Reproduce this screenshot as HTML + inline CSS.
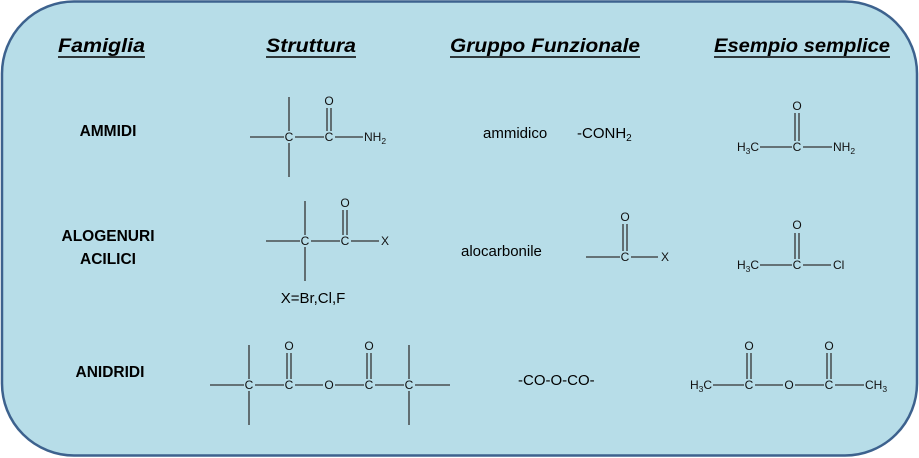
<!DOCTYPE html>
<html><head><meta charset="utf-8"><style>
html,body{margin:0;padding:0;background:#fff;}
svg{display:block;}
.h{font-family:"Liberation Sans",sans-serif;font-weight:bold;font-style:italic;font-size:19px;fill:#000;}
.l{font-family:"Liberation Sans",sans-serif;font-weight:bold;font-size:15.5px;fill:#000;}
.t{font-family:"Liberation Sans",sans-serif;font-size:15px;fill:#000;}
.c{font-family:"Liberation Sans",sans-serif;font-size:12px;fill:#111;}
.s{font-size:8.5px;}
line{stroke:#333;stroke-width:1.3;}
</style></head><body>
<svg width="919" height="458" viewBox="0 0 919 458" xmlns="http://www.w3.org/2000/svg">
<rect x="2" y="1.5" width="915" height="454" rx="72" ry="72" fill="#b7dde8" stroke="#3d628e" stroke-width="2.5"/>
<!-- headers -->
<text class="h" x="58" y="52" textLength="87" lengthAdjust="spacingAndGlyphs">Famiglia</text>
<line x1="58" y1="57" x2="145" y2="57" style="stroke:#000;stroke-width:1.6"/>
<text class="h" x="266" y="52" textLength="90" lengthAdjust="spacingAndGlyphs">Struttura</text>
<line x1="266" y1="57" x2="356" y2="57" style="stroke:#000;stroke-width:1.6"/>
<text class="h" x="450" y="52" textLength="190" lengthAdjust="spacingAndGlyphs">Gruppo Funzionale</text>
<line x1="450" y1="57" x2="640" y2="57" style="stroke:#000;stroke-width:1.6"/>
<text class="h" x="714" y="52" textLength="176" lengthAdjust="spacingAndGlyphs">Esempio semplice</text>
<line x1="714" y1="57" x2="890" y2="57" style="stroke:#000;stroke-width:1.6"/>
<!-- labels -->
<text class="l" x="108" y="136" text-anchor="middle">AMMIDI</text>
<text class="l" x="108" y="241" text-anchor="middle">ALOGENURI</text>
<text class="l" x="108" y="264" text-anchor="middle">ACILICI</text>
<text class="l" x="110" y="377" text-anchor="middle">ANIDRIDI</text>

<!-- structure 1 -->
<line x1="250" y1="137" x2="284" y2="137"/>
<line x1="289" y1="97" x2="289" y2="131"/><line x1="289" y1="143" x2="289" y2="177"/>
<text class="c" x="289" y="141" text-anchor="middle">C</text>
<line x1="295" y1="137" x2="324" y2="137"/>
<text class="c" x="329" y="141" text-anchor="middle">C</text>
<line x1="327" y1="108" x2="327" y2="131"/><line x1="331" y1="108" x2="331" y2="131"/>
<text class="c" x="329" y="105" text-anchor="middle">O</text>
<line x1="335" y1="137" x2="363" y2="137"/>
<text class="c" x="364" y="141">NH<tspan class="s" dy="3">2</tspan></text>

<!-- structure 2 -->
<line x1="266" y1="241" x2="300" y2="241"/>
<line x1="305" y1="201" x2="305" y2="235"/><line x1="305" y1="247" x2="305" y2="281"/>
<text class="c" x="305" y="245" text-anchor="middle">C</text>
<line x1="311" y1="241" x2="340" y2="241"/>
<text class="c" x="345" y="245" text-anchor="middle">C</text>
<line x1="343" y1="210" x2="343" y2="235"/><line x1="347" y1="210" x2="347" y2="235"/>
<text class="c" x="345" y="207" text-anchor="middle">O</text>
<line x1="351" y1="241" x2="379" y2="241"/>
<text class="c" x="385" y="245" text-anchor="middle">X</text>
<text class="t" x="313" y="303" text-anchor="middle">X=Br,Cl,F</text>

<!-- structure 3 -->
<line x1="210" y1="385" x2="244" y2="385"/>
<line x1="249" y1="345" x2="249" y2="379"/><line x1="249" y1="391" x2="249" y2="425"/>
<text class="c" x="249" y="389" text-anchor="middle">C</text>
<line x1="255" y1="385" x2="284" y2="385"/>
<text class="c" x="289" y="389" text-anchor="middle">C</text>
<line x1="287" y1="353" x2="287" y2="379"/><line x1="291" y1="353" x2="291" y2="379"/>
<text class="c" x="289" y="350" text-anchor="middle">O</text>
<line x1="295" y1="385" x2="323" y2="385"/>
<text class="c" x="329" y="389" text-anchor="middle">O</text>
<line x1="335" y1="385" x2="364" y2="385"/>
<text class="c" x="369" y="389" text-anchor="middle">C</text>
<line x1="367" y1="353" x2="367" y2="379"/><line x1="371" y1="353" x2="371" y2="379"/>
<text class="c" x="369" y="350" text-anchor="middle">O</text>
<line x1="375" y1="385" x2="404" y2="385"/>
<text class="c" x="409" y="389" text-anchor="middle">C</text>
<line x1="409" y1="345" x2="409" y2="379"/><line x1="409" y1="391" x2="409" y2="425"/>
<line x1="415" y1="385" x2="450" y2="385"/>

<!-- functional groups -->
<text class="t" x="483" y="138">ammidico</text>
<text class="t" x="577" y="138">-CONH<tspan font-size="10" dy="3">2</tspan></text>
<text class="t" x="461" y="256">alocarbonile</text>
<line x1="586" y1="257" x2="620" y2="257"/>
<text class="c" x="625" y="261" text-anchor="middle">C</text>
<line x1="623" y1="224" x2="623" y2="251"/><line x1="627" y1="224" x2="627" y2="251"/>
<text class="c" x="625" y="221" text-anchor="middle">O</text>
<line x1="631" y1="257" x2="658" y2="257"/>
<text class="c" x="665" y="261" text-anchor="middle">X</text>
<text class="t" x="518" y="385">-CO-O-CO-</text>

<!-- examples -->
<text class="c" x="737" y="151">H<tspan class="s" dy="3">3</tspan><tspan dy="-3">C</tspan></text>
<line x1="760" y1="147" x2="792" y2="147"/>
<text class="c" x="797" y="151" text-anchor="middle">C</text>
<line x1="795" y1="113" x2="795" y2="141"/><line x1="799" y1="113" x2="799" y2="141"/>
<text class="c" x="797" y="110" text-anchor="middle">O</text>
<line x1="803" y1="147" x2="832" y2="147"/>
<text class="c" x="833" y="151">NH<tspan class="s" dy="3">2</tspan></text>

<text class="c" x="737" y="269">H<tspan class="s" dy="3">3</tspan><tspan dy="-3">C</tspan></text>
<line x1="760" y1="265" x2="792" y2="265"/>
<text class="c" x="797" y="269" text-anchor="middle">C</text>
<line x1="795" y1="233" x2="795" y2="259"/><line x1="799" y1="233" x2="799" y2="259"/>
<text class="c" x="797" y="229" text-anchor="middle">O</text>
<line x1="803" y1="265" x2="831" y2="265"/>
<text class="c" x="833" y="269">Cl</text>

<text class="c" x="690" y="389">H<tspan class="s" dy="3">3</tspan><tspan dy="-3">C</tspan></text>
<line x1="713" y1="385" x2="744" y2="385"/>
<text class="c" x="749" y="389" text-anchor="middle">C</text>
<line x1="747" y1="353" x2="747" y2="379"/><line x1="751" y1="353" x2="751" y2="379"/>
<text class="c" x="749" y="350" text-anchor="middle">O</text>
<line x1="755" y1="385" x2="783" y2="385"/>
<text class="c" x="789" y="389" text-anchor="middle">O</text>
<line x1="795" y1="385" x2="824" y2="385"/>
<text class="c" x="829" y="389" text-anchor="middle">C</text>
<line x1="827" y1="353" x2="827" y2="379"/><line x1="831" y1="353" x2="831" y2="379"/>
<text class="c" x="829" y="350" text-anchor="middle">O</text>
<line x1="835" y1="385" x2="864" y2="385"/>
<text class="c" x="865" y="389">CH<tspan class="s" dy="3">3</tspan></text>
</svg>
</body></html>
